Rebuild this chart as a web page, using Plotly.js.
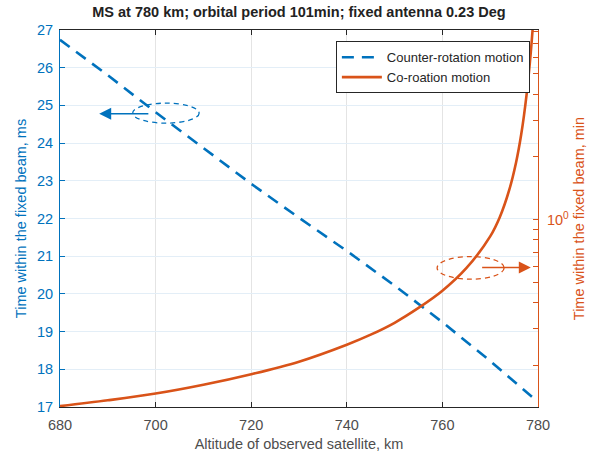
<!DOCTYPE html>
<html>
<head>
<meta charset="utf-8">
<script src="https://cdn.plot.ly/plotly-3.0.1.min.js"></script>
<style>html,body{margin:0;padding:0;background:#fff}#chart{width:592px;height:454px}</style>
</head>
<body>
<div id="chart"></div>
<script>
// Counter-rotation motion (left axis, ms)
const counterAlt = [680, 690, 700, 710, 720, 730, 740, 750, 760, 770, 779];
const counterMs  = [26.74, 25.80, 24.82, 23.87, 22.92, 22.02, 21.14, 20.22, 19.25, 18.22, 17.24];

// Co-rotation motion (right axis, min, log scale)
const coAlt = [680, 690, 700, 710, 720, 730, 740, 745, 750, 755, 760, 765, 770, 772, 774, 775.4, 776.5, 777.6, 778.5, 779.2];
const coMin = [0.128, 0.1365, 0.147, 0.162, 0.182, 0.209, 0.252, 0.2815, 0.321, 0.378, 0.457, 0.586, 0.832, 1.028, 1.393, 1.875, 2.574, 3.958, 6.376, 10.34];

// Axis ticks
const xTicks = [680, 700, 720, 740, 760, 780];
const yTicks = [17, 18, 19, 20, 21, 22, 23, 24, 25, 26, 27];
const y2TickVals = [0.2, 0.3, 0.4, 0.5, 0.6, 0.7, 0.8, 0.9, 1, 2, 3, 4, 5, 6, 7, 8];
const y2TickText = y2TickVals.map(v => v === 1 ? '10<sup>0</sup>' : '');

const BLUE = '#0072BD', RED = '#D95319', DARK = '#262626';
const FONT = 'Liberation Sans, Arial, sans-serif';

const traces = [
  {x: counterAlt, y: counterMs, type: 'scatter', mode: 'lines', name: 'Counter-rotation motion',
   line: {color: BLUE, width: 2.6, dash: '12px,8px'}, yaxis: 'y'},
  {x: coAlt, y: coMin, type: 'scatter', mode: 'lines', name: 'Co-roation motion',
   line: {color: RED, width: 2.6, shape: 'spline', smoothing: 1}, yaxis: 'y2'}
];

const layout = {
  width: 592, height: 454,
  margin: {l: 60, r: 54, t: 30, b: 46.5},
  paper_bgcolor: '#fff', plot_bgcolor: '#fff',
  font: {family: FONT, size: 14, color: DARK},
  title: {text: '<b>MS at 780 km; orbital period 101min; fixed antenna 0.23 Deg</b>',
          font: {family: FONT, size: 14.5, color: '#222'}, x: 0.505, xanchor: 'center', y: 0.985, yanchor: 'top'},
  showlegend: true,
  legend: {x: 0.983, xanchor: 'right', y: 0.97, yanchor: 'top', bgcolor: '#fff',
           bordercolor: DARK, borderwidth: 1, font: {family: FONT, size: 13, color: DARK},
           tracegroupgap: 0, itemwidth: 40},
  xaxis: {range: [680, 780], tickvals: xTicks, ticks: 'inside', ticklen: 5, tickcolor: DARK,
          showline: true, linecolor: DARK, linewidth: 1, mirror: 'ticks',
          showgrid: true, gridcolor: '#e4e4e4', gridwidth: 1, zeroline: false,
          ticklabelstandoff: 5,
          tickfont: {family: FONT, size: 14.5, color: '#4d4d4d'},
          title: {text: 'Altitude of observed satellite, km', font: {family: FONT, size: 14.5, color: '#4d4d4d'}, standoff: 6}},
  yaxis: {range: [17, 27], tickvals: yTicks, ticks: 'inside', ticklen: 5, tickcolor: BLUE,
          showline: true, linecolor: BLUE, linewidth: 1, showgrid: true, gridcolor: '#e3eef7', zeroline: false,
          ticklabelstandoff: 3,
          tickfont: {family: FONT, size: 14.5, color: BLUE},
          title: {text: 'Time within the fixed beam, ms', font: {family: FONT, size: 14.5, color: BLUE}, standoff: 6}},
  yaxis2: {type: 'log', range: [-0.897, 0.909], overlaying: 'y', side: 'right',
           tickvals: y2TickVals, ticktext: y2TickText, ticks: 'inside', ticklen: 5, tickcolor: RED,
           showline: true, linecolor: RED, linewidth: 1, showgrid: false, zeroline: false,
           ticklabelstandoff: 5,
           tickfont: {family: FONT, size: 14.5, color: RED},
           title: {text: 'Time within the fixed beam, min', font: {family: FONT, size: 14.5, color: RED}, standoff: 5}},
  shapes: [
    {type: 'circle', xref: 'x', yref: 'y', x0: 695.2, x1: 709.1, y0: 24.53, y1: 25.06,
     line: {color: BLUE, width: 1.3, dash: '5px,4px'}, layer: 'above'},
    {type: 'circle', xref: 'x', yref: 'y', x0: 758.9, x1: 772.9, y0: 20.39, y1: 20.99,
     line: {color: RED, width: 1.3, dash: '5px,4px'}, layer: 'above'}
  ],
  annotations: [
    {x: 688.2, y: 24.78, ax: 698.8, ay: 24.78, xref: 'x', yref: 'y', axref: 'x', ayref: 'y',
     text: '', showarrow: true, arrowhead: 2, arrowsize: 1.6, arrowwidth: 1.5, arrowcolor: BLUE, standoff: 0},
    {x: 778.5, y: 20.70, ax: 768.0, ay: 20.70, xref: 'x', yref: 'y', axref: 'x', ayref: 'y',
     text: '', showarrow: true, arrowhead: 2, arrowsize: 1.6, arrowwidth: 1.5, arrowcolor: RED, standoff: 0}
  ]
};

Plotly.newPlot('chart', traces, layout, {displayModeBar: false, staticPlot: true});
</script>
</body>
</html>
